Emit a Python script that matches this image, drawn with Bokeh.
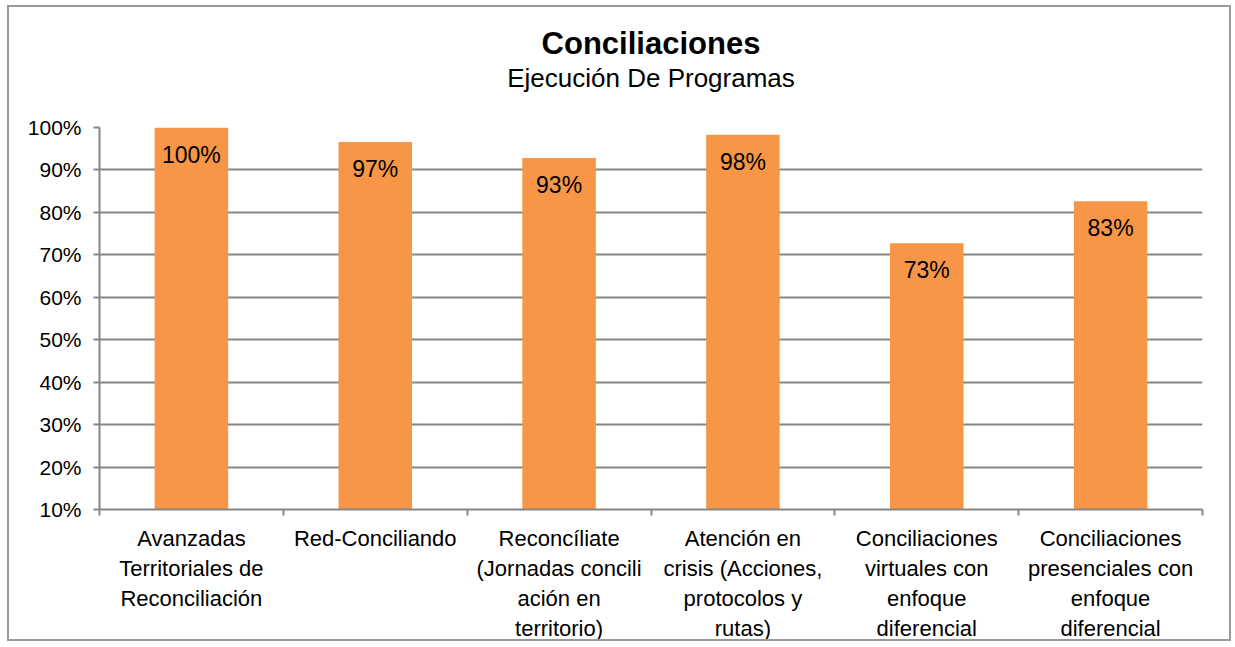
from bokeh.plotting import figure
from bokeh.models import (ColumnDataSource, FixedTicker, Range1d, Title, LabelSet)
from bokeh.core.properties import value
from bokeh.embed import file_html
from bokeh.resources import INLINE

categories = ["Avanzadas Territoriales de Reconciliación", "Red-Conciliando",
              "Reconcíliate (Jornadas conciliación en territorio)",
              "Atención en crisis (Acciones, protocolos y rutas)",
              "Conciliaciones virtuales con enfoque diferencial",
              "Conciliaciones presenciales con enfoque diferencial"]
tick_labels = ["Avanzadas\nTerritoriales de\nReconciliación",
               "Red-Conciliando",
               "Reconcíliate\n(Jornadas concili\nación en\nterritorio)",
               "Atención en\ncrisis (Acciones,\nprotocolos y\nrutas)",
               "Conciliaciones\nvirtuales con\nenfoque\ndiferencial",
               "Conciliaciones\npresenciales con\nenfoque\ndiferencial"]
values = [100.0, 96.6, 92.8, 98.3, 72.7, 82.6]
value_labels = ["100%", "97%", "93%", "98%", "73%", "83%"]
y_ticks = [10, 20, 30, 40, 50, 60, 70, 80, 90, 100]

FONT = "Liberation Sans"
GRID = "#868686"

xpos = [i + 0.5 for i in range(len(categories))]
source = ColumnDataSource(dict(x=xpos, top=values, label=value_labels))

p = figure(width=1224, height=636, output_backend="svg", toolbar_location=None,
           x_range=Range1d(0, len(categories)), y_range=Range1d(10, 100),
           title=None)
p.min_border_left = 90
p.min_border_right = 31
p.min_border_top = 120
p.min_border_bottom = 133
p.outline_line_color = None
p.background_fill_color = "white"
p.border_fill_color = "white"
p.styles = {"border": "2px solid #9a9a9a", "box-sizing": "border-box",
            "margin-left": "7px", "margin-top": "5px"}

p.vbar(x="x", top="top", bottom=10, width=0.4, source=source,
       fill_color="#F79646", line_color=None)

labels = LabelSet(x="x", y="top", text="label", source=source,
                  text_align="center", text_baseline="middle", y_offset=-27,
                  text_font=value(FONT), text_font_size=value("23px"),
                  text_color="black")
p.add_layout(labels)

spacer = Title(text=" ", align="center", text_font=FONT, text_font_size="1px",
               standoff=32)
sub = Title(text="Ejecución De Programas", align="center", text_font=FONT,
            text_font_size="26px", text_font_style="normal", text_color="black",
            standoff=0)
main = Title(text="Conciliaciones", align="center", text_font=FONT,
             text_font_size="31px", text_font_style="bold", text_color="black",
             standoff=0)
p.add_layout(spacer, "above")
p.add_layout(sub, "above")
p.add_layout(main, "above")

# y axis
p.yaxis.ticker = FixedTicker(ticks=y_ticks)
p.yaxis.major_label_overrides = {t: f"{t}%" for t in y_ticks}
p.yaxis.major_label_text_font = FONT
p.yaxis.major_label_text_font_size = "21px"
p.yaxis.major_label_text_color = "black"
p.yaxis.axis_line_color = GRID
p.yaxis.axis_line_width = 2
p.yaxis.major_tick_line_color = GRID
p.yaxis.major_tick_line_width = 2
p.yaxis.major_tick_in = 0
p.yaxis.major_tick_out = 6
p.yaxis.minor_tick_line_color = None
p.yaxis.major_label_standoff = 12

# x axis
p.xaxis.ticker = FixedTicker(ticks=xpos, minor_ticks=list(range(len(categories) + 1)))
p.xaxis.major_label_overrides = {x: lab for x, lab in zip(xpos, tick_labels)}
p.xaxis.major_label_text_font = FONT
p.xaxis.major_label_text_font_size = "22px"
p.xaxis.major_label_text_color = "black"
p.xaxis.axis_line_color = GRID
p.xaxis.axis_line_width = 2
p.xaxis.major_tick_line_color = None
p.xaxis.minor_tick_line_color = GRID
p.xaxis.minor_tick_line_width = 2
p.xaxis.minor_tick_in = 0
p.xaxis.minor_tick_out = 6
p.xaxis.major_label_standoff = 10

p.xgrid.grid_line_color = None
p.ygrid.ticker = FixedTicker(ticks=y_ticks)
p.ygrid.grid_line_color = GRID
p.ygrid.grid_line_width = 2

open("out.html", "w").write(file_html(p, INLINE))
